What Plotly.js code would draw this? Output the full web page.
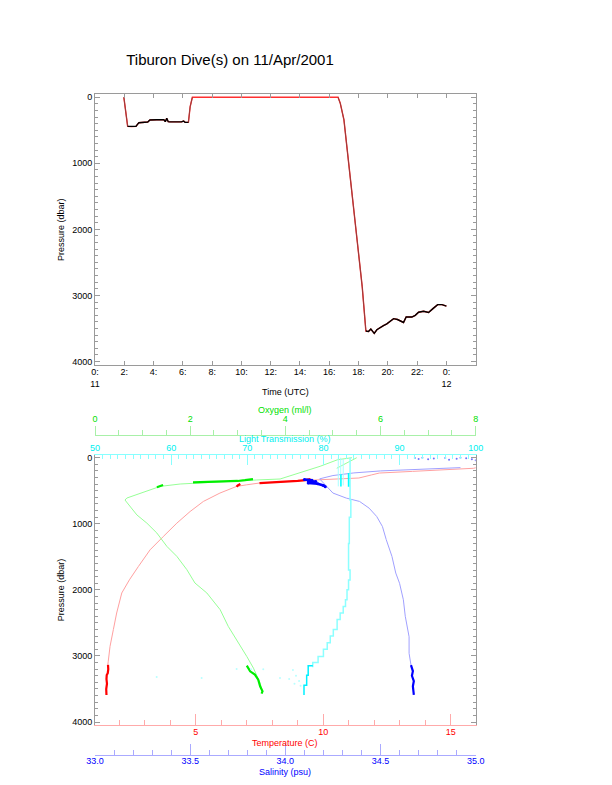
<!DOCTYPE html>
<html>
<head>
<meta charset="utf-8">
<script src="https://cdn.plot.ly/plotly-3.0.1.min.js"></script>
<style>html,body{margin:0;padding:0;background:#fff;}#chart{width:612px;height:785px;}</style>
</head>
<body>
<div id="chart"></div>
<script>
// ---------- Top panel: pressure time series ----------
const hours = [1.97, 2.1, 2.23, 2.5, 2.8, 2.9, 3.0, 3.6, 3.75, 4.2, 4.7, 4.8, 4.9, 5.0, 5.1, 5.9, 6.05, 6.15, 6.38, 6.5, 6.65, 8.0, 10.0, 12.0, 14.0, 16.6, 16.75, 17.0, 17.45, 17.9, 18.25, 18.5, 18.68, 18.84, 18.97, 19.07, 19.25, 19.48, 19.7, 19.93, 20.16, 20.39, 20.66, 20.96, 21.07, 21.25, 21.64, 21.87, 22.1, 22.44, 22.78, 23.08, 23.4, 23.7, 24.0];
const pressure = [0, 200, 440, 445, 440, 410, 385, 375, 345, 340, 338, 370, 320, 370, 372, 372, 360, 380, 380, 140, 0, 0, 0, 0, 0, 0, 90, 340, 1250, 2160, 2870, 3540, 3548, 3510, 3548, 3575, 3520, 3485, 3458, 3432, 3395, 3352, 3365, 3390, 3410, 3325, 3328, 3302, 3255, 3240, 3258, 3200, 3140, 3140, 3162];
const descentRanges = [[1.97, 2.23], [6.38, 6.65], [16.6, 18.5]];
const bottomRanges = [[2.23, 6.38], [18.5, 24.0]];
const timeTickVals = [0, 2, 4, 6, 8, 10, 12, 14, 16, 18, 20, 22, 24];
const timeTickText = ['0:<br>11', '2:', '4:', '6:', '8:', '10:', '12:', '14:', '16:', '18:', '20:', '22:', '0:<br>12'];

// ---------- Bottom panel: profiles ----------
const tempLightP = [150, 160, 207, 232, 260, 307, 333, 360, 383, 410, 435, 535, 662, 814, 990, 1192, 1394, 1647, 1848, 2047, 2350, 2600, 2855, 3080, 3140];
const tempLightC = [16.0, 15.9, 13.5, 12.2, 11.9, 11.4, 9.9, 8.6, 7.5, 7.0, 6.6, 5.95, 5.3, 4.78, 4.26, 3.73, 3.21, 2.75, 2.4, 2.1, 1.9, 1.77, 1.64, 1.57, 1.55];
const tempDive1P = [440, 420, 398, null, 385, 378, 372, 362, 350, 338, 325];
const tempDive1C = [6.6, 6.65, 6.75, null, 7.5, 7.9, 8.3, 8.7, 9.0, 9.3, 9.5];
const tempDive2P = [3136, 3200, 3260, 3290, 3350, 3420, 3500, 3590];
const tempDive2C = [1.56, 1.57, 1.55, 1.51, 1.5, 1.52, 1.49, 1.5];

const salSurfP = [5, 0, 12, 4, 15, 8, 25, 40, 22, 0, 30, 18];
const salSurfS = [34.68, 34.72, 34.78, 34.84, 34.9, 34.95, 34.98, 35.0, 34.75, 34.92, 34.86, 34.7];
const salLightP = [150, 175, 200, 230, 270, 320, 435, 535, 611, 662, 763, 890, 1041, 1240, 1493, 1745, 1900, 2150, 2400, 2710, 2960, 3136];
const salLightS = [34.92, 34.67, 34.5, 34.36, 34.25, 34.18, 34.22, 34.25, 34.32, 34.39, 34.44, 34.48, 34.51, 34.53, 34.56, 34.58, 34.6, 34.62, 34.63, 34.65, 34.65, 34.66];
const salDive1P = [330, 340, 352, 360, 368, 375, 382, 395, 420, 440];
const salDive1S = [34.1, 34.14, 34.12, 34.16, 34.13, 34.15, 34.12, 34.17, 34.2, 34.21];
const salDive2P = [3140, 3230, 3300, 3380, 3460, 3590];
const salDive2S = [34.66, 34.67, 34.665, 34.675, 34.67, 34.675];

const oxyLightP = [0, 30, 130, 232, 322, 337, 398, 434, 535, 610, 640, 737, 866, 990, 1140, 1342, 1493, 1694, 1896, 2047, 2300, 2552, 2755, 3008, 3185, 3412, 3563];
const oxyLightO = [5.4, 5.1, 4.73, 4.31, 3.89, 3.4, 1.79, 1.37, 0.95, 0.67, 0.63, 0.74, 0.88, 1.09, 1.3, 1.51, 1.72, 1.93, 2.1, 2.35, 2.63, 2.8, 2.98, 3.19, 3.33, 3.47, 3.52];
const oxyBranchP = [0, 85, 160];
const oxyBranchO = [5.5, 5.29, 5.08];
const oxyDive1P = [374, 370, 366, 362, 352, 340, 323, null, 448, 430, 413];
const oxyDive1O = [2.06, 2.3, 2.55, 2.8, 3.0, 3.15, 3.32, null, 1.3, 1.35, 1.43];
const oxyDive2P = [3147, 3233, 3283, 3359, 3460, 3535, 3570];
const oxyDive2O = [3.19, 3.26, 3.36, 3.43, 3.47, 3.52, 3.5];

const ltLightP = [0, 440, 640, 900, 1300, 1700, 1850, 2000, 2150, 2250, 2350, 2450, 2600, 2700, 2800, 2900, 3010, 3100, 3170];
const ltLightT = [83.5, 83.5, 83.5, 83.6, 83.4, 83.3, 83.5, 83.3, 83.1, 82.9, 82.6, 82.2, 81.8, 81.3, 80.9, 80.5, 80.0, 79.3, 78.6];
const ltTopP = [0, 434, null, 0, 434, null, 20, 420];
const ltTopT = [81.95, 81.95, null, 82.27, 82.27, null, 82.6, 82.6];
const ltDive1P = [250, 434, null, 230, 440];
const ltDive1T = [82.3, 82.3, null, 83.3, 83.3];
const ltDive2P = [3147, 3293, 3445, 3590];
const ltDive2T = [78.6, 78.0, 77.8, 77.45];
const ltScatterP = [3318, 3333, 3197, 3200, 3200, 3333, 3212, 3300, 3380, 3450, 3420, 3350];
const ltScatterT = [58.1, 64.0, 68.6, 70.5, 72.1, 74.3, 76.0, 76.4, 76.8, 77.0, 76.2, 75.5];

// ---------- helpers ----------
const W = 612, H = 785;
const fx = px => px / W;
const fy = py => 1 - py / H;
function segment(r) {
  const x = [], y = [];
  hours.forEach((h, i) => { if (h >= r[0] - 1e-9 && h <= r[1] + 1e-9) { x.push(h); y.push(pressure[i]); } });
  return {x, y};
}
const FONT = 'Liberation Sans, Arial, Helvetica, sans-serif';
const GRAY = '#9a9a9a';
const plotX = [fx(95), fx(475.7)];

const traces = [
  {x: hours, y: pressure, xaxis: 'x', yaxis: 'y', mode: 'lines', line: {color: '#ff3030', width: 1.4}}
];
descentRanges.forEach(r => {
  const s = segment(r);
  traces.push({x: s.x, y: s.y, xaxis: 'x', yaxis: 'y', mode: 'lines', line: {color: '#963c3c', width: 1}});
});
bottomRanges.forEach(r => {
  const s = segment(r);
  traces.push({x: s.x, y: s.y, xaxis: 'x', yaxis: 'y', mode: 'lines', line: {color: '#000000', width: 1.4}});
});

traces.push(
  // light profiles
  {x: tempLightC, y: tempLightP, xaxis: 'x2', yaxis: 'y2', mode: 'lines', line: {color: '#ffa0a0', width: 1}},
  {x: oxyLightO, y: oxyLightP, xaxis: 'x4', yaxis: 'y2', mode: 'lines', line: {color: '#96ff96', width: 1}},
  {x: oxyBranchO, y: oxyBranchP, xaxis: 'x4', yaxis: 'y2', mode: 'lines', line: {color: '#96ff96', width: 1}},
  {x: salLightS, y: salLightP, xaxis: 'x3', yaxis: 'y2', mode: 'lines', line: {color: '#a0a0ff', width: 1}},
  {x: salSurfS, y: salSurfP, xaxis: 'x3', yaxis: 'y2', mode: 'markers', marker: {color: '#7070ff', size: 2}},
  {x: ltLightT, y: ltLightP, xaxis: 'x5', yaxis: 'y2', mode: 'lines', line: {color: '#8cffff', width: 1.5, shape: 'hv'}},
  {x: ltTopT, y: ltTopP, xaxis: 'x5', yaxis: 'y2', mode: 'lines', line: {color: '#a8ffff', width: 1}},
  {x: ltScatterT, y: ltScatterP, xaxis: 'x5', yaxis: 'y2', mode: 'markers', marker: {color: '#b8ffff', size: 2}},

  // on-bottom segments
  {x: ltDive1T, y: ltDive1P, xaxis: 'x5', yaxis: 'y2', mode: 'lines', line: {color: '#00ffff', width: 1.5}},
  {x: ltDive2T, y: ltDive2P, xaxis: 'x5', yaxis: 'y2', mode: 'lines', line: {color: '#00f0ff', width: 1.5, shape: 'hv'}},
  {x: oxyDive1O, y: oxyDive1P, xaxis: 'x4', yaxis: 'y2', mode: 'lines', line: {color: '#00ee00', width: 2.2}},
  {x: oxyDive2O, y: oxyDive2P, xaxis: 'x4', yaxis: 'y2', mode: 'lines', line: {color: '#00ee00', width: 2.2}},
  {x: tempDive1C, y: tempDive1P, xaxis: 'x2', yaxis: 'y2', mode: 'lines', line: {color: '#ff0000', width: 2.2}},
  {x: tempDive2C, y: tempDive2P, xaxis: 'x2', yaxis: 'y2', mode: 'lines', line: {color: '#ff0000', width: 2.2}},
  {x: salDive1S, y: salDive1P, xaxis: 'x3', yaxis: 'y2', mode: 'lines+markers', line: {color: '#0000ff', width: 2.5}, marker: {color: '#0000ff', size: 3}},
  {x: salDive2S, y: salDive2P, xaxis: 'x3', yaxis: 'y2', mode: 'lines', line: {color: '#0000ff', width: 2.2}}
);

const tickFont = {family: FONT, size: 9, color: '#000'};
const yCommon = {
  ticks: 'inside', ticklen: 5, tickcolor: GRAY, showline: true, linecolor: GRAY, linewidth: 1,
  mirror: 'ticks', showgrid: false, zeroline: false, tickmode: 'array',
  tickvals: [0, 1000, 2000, 3000, 4000], ticktext: ['0', '1000', '2000', '3000', '4000'],
  minor: {ticks: 'inside', ticklen: 3, tickcolor: GRAY, dtick: 100, tick0: 0, showgrid: false},
  tickfont: tickFont,
  title: {text: 'Pressure (dbar)', font: {family: FONT, size: 9, color: '#000'}, standoff: 6}
};

const layout = {
  width: W, height: H,
  margin: {l: 0, r: 0, t: 0, b: 0, pad: 0},
  paper_bgcolor: '#ffffff', plot_bgcolor: '#ffffff',
  showlegend: false,
  font: {family: FONT, size: 9, color: '#000'},
  title: {text: 'Tiburon Dive(s) on 11/Apr/2001', x: fx(230), y: fy(60), xanchor: 'center', yanchor: 'middle', font: {family: FONT, size: 15, color: '#000'}},
  xaxis: {
    domain: plotX, anchor: 'y', range: [0, 26],
    tickmode: 'array', tickvals: timeTickVals, ticktext: timeTickText,
    ticks: 'inside', ticklen: 4, tickcolor: GRAY, showline: true, linecolor: GRAY, mirror: 'ticks',
    showgrid: false, zeroline: false, tickfont: tickFont, ticklabelstandoff: -2,
    title: {text: 'Time (UTC)', font: {family: FONT, size: 9, color: '#000'}, standoff: 1}
  },
  yaxis: Object.assign({}, yCommon, {domain: [fy(365), fy(94.3)], anchor: 'x', range: [4054, -45]}),
  yaxis2: Object.assign({}, yCommon, {domain: [fy(725), fy(455)], anchor: 'x2', range: [4045, -41]}),
  xaxis2: {
    domain: plotX, anchor: 'y2', range: [1.05, 15.98], side: 'bottom',
    tickmode: 'array', tickvals: [5, 10, 15], ticktext: ['5', '10', '15'],
    ticks: 'inside', ticklen: 11, tickcolor: '#ffaaaa', showline: true, linecolor: '#ffaaaa',
    minor: {ticks: 'inside', ticklen: 5, tickcolor: '#ffaaaa', dtick: 1, tick0: 0},
    showgrid: false, zeroline: false, ticklabelstandoff: -2,
    tickfont: {family: FONT, size: 9, color: '#ff0000'}
  },
  xaxis3: {
    domain: plotX, anchor: 'free', position: fy(755), overlaying: 'x2', side: 'bottom', range: [33, 35],
    tickmode: 'linear', tick0: 33, dtick: 0.5, tickformat: '.1f',
    ticks: 'inside', ticklen: 11, tickcolor: '#aaaaff', showline: true, linecolor: '#aaaaff',
    minor: {ticks: 'inside', ticklen: 5, tickcolor: '#aaaaff', dtick: 0.1, tick0: 33},
    showgrid: false, zeroline: false, ticklabelstandoff: -3,
    tickfont: {family: FONT, size: 9, color: '#0000ff'}
  },
  xaxis4: {
    domain: plotX, anchor: 'free', position: fy(435), overlaying: 'x2', side: 'top', range: [0, 8],
    tickmode: 'linear', tick0: 0, dtick: 2,
    ticks: 'outside', ticklen: 9, tickcolor: '#a8f0a8', showline: true, linecolor: '#a8f0a8',
    minor: {ticks: 'outside', ticklen: 5, tickcolor: '#a8f0a8', dtick: 0.5, tick0: 0},
    showgrid: false, zeroline: false, tickfont: {family: FONT, size: 9, color: '#00e000'}
  },
  xaxis5: {
    domain: plotX, anchor: 'y2', overlaying: 'x2', side: 'top', range: [50, 100],
    tickmode: 'linear', tick0: 50, dtick: 10,
    ticks: 'inside', ticklen: 10, tickcolor: '#88ffff', showline: true, linecolor: '#88ffff',
    minor: {ticks: 'inside', ticklen: 4, tickcolor: '#88ffff', dtick: 1, tick0: 50},
    showgrid: false, zeroline: false, ticklabelstandoff: -1,
    tickfont: {family: FONT, size: 9, color: '#00f0f0'}
  },
  annotations: [
    {text: 'Temperature (C)', xref: 'paper', yref: 'paper', x: fx(284.5), y: fy(742.5), xanchor: 'center', yanchor: 'middle', showarrow: false, font: {family: FONT, size: 9, color: '#ff0000'}},
    {text: 'Salinity (psu)', xref: 'paper', yref: 'paper', x: fx(284.5), y: fy(772), xanchor: 'center', yanchor: 'middle', showarrow: false, font: {family: FONT, size: 9, color: '#0000ff'}},
    {text: 'Oxygen (ml/l)', xref: 'paper', yref: 'paper', x: fx(285), y: fy(410), xanchor: 'center', yanchor: 'middle', showarrow: false, font: {family: FONT, size: 9, color: '#00e000'}},
    {text: 'Light Transmission (%)', xref: 'paper', yref: 'paper', x: fx(285), y: fy(438.5), xanchor: 'center', yanchor: 'middle', showarrow: false, font: {family: FONT, size: 9, color: '#00f0f0'}}
  ]
};

Plotly.newPlot('chart', traces, layout, {staticPlot: true, displayModeBar: false});
</script>
</body>
</html>
